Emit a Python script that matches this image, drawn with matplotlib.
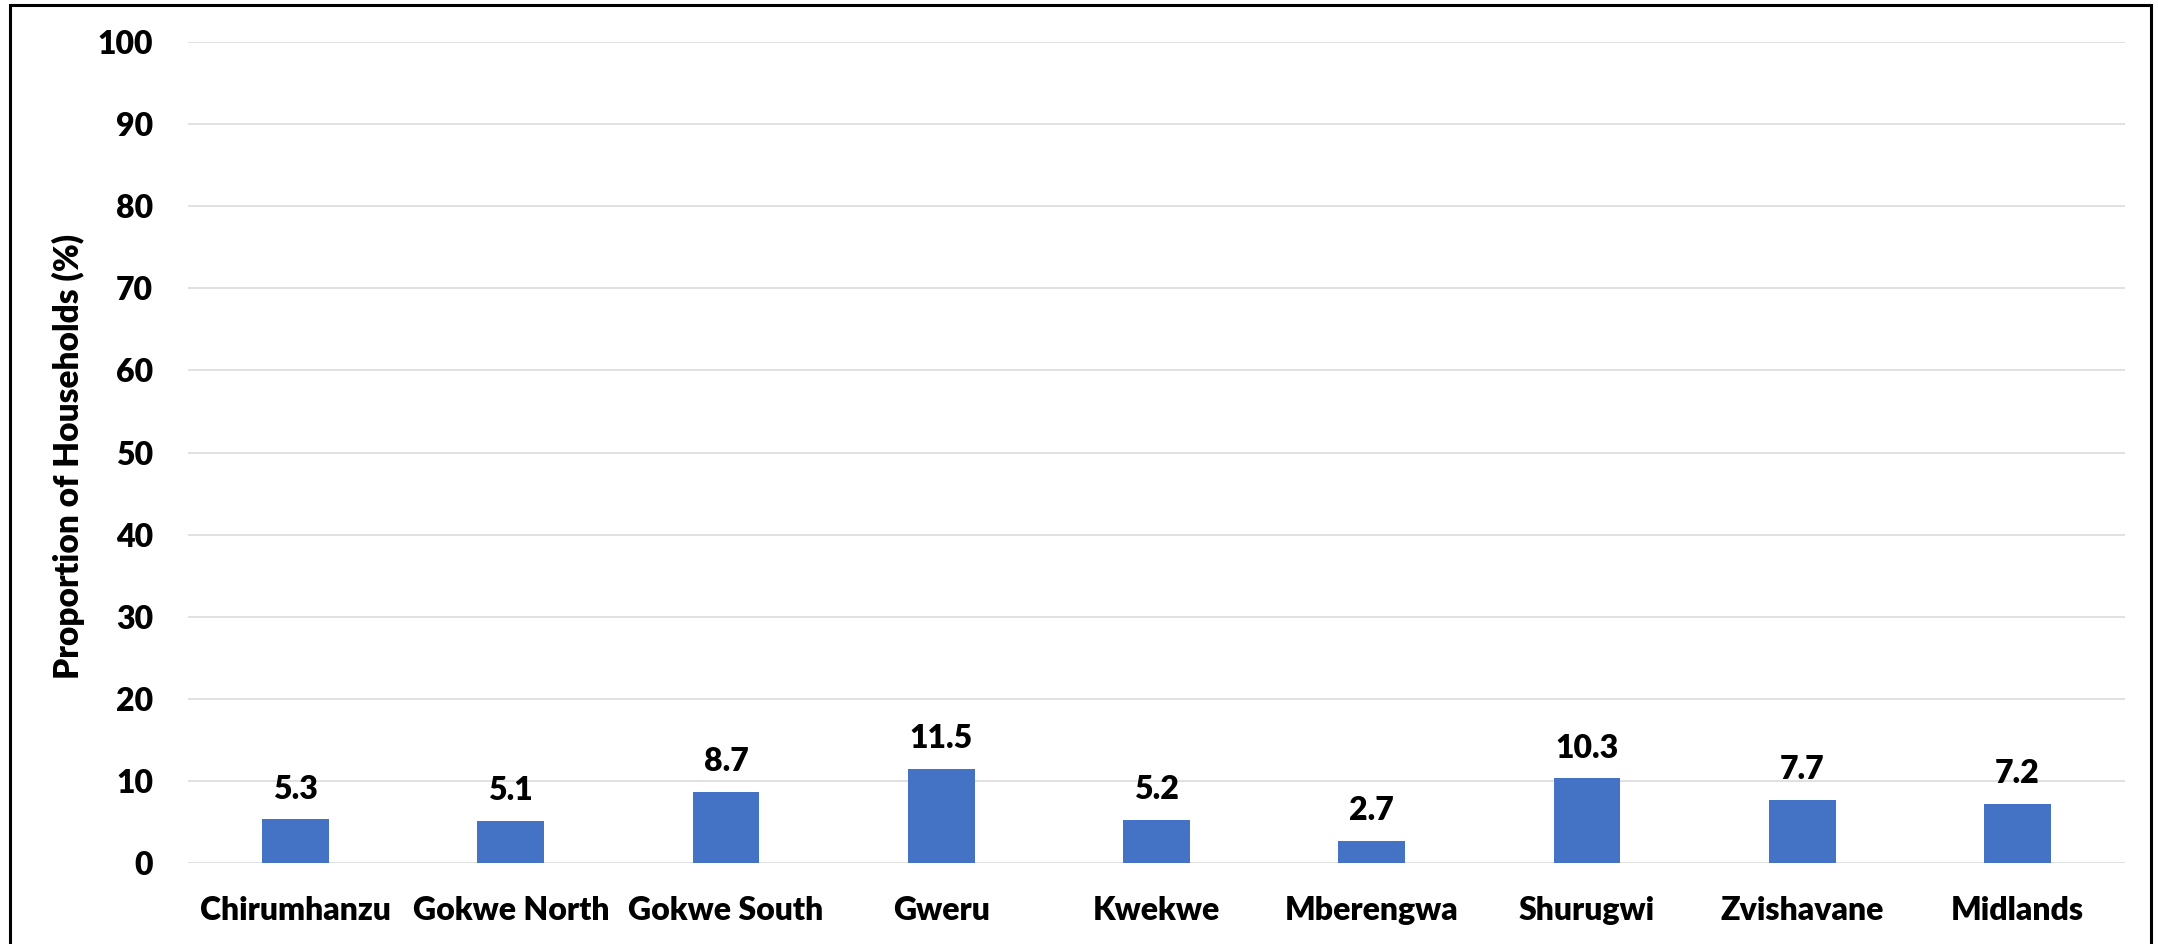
import matplotlib
matplotlib.use("Agg")
import matplotlib.pyplot as plt
from matplotlib.patches import Rectangle

districts = ["Chirumhanzu", "Gokwe North", "Gokwe South", "Gweru", "Kwekwe",
             "Mberengwa", "Shurugwi", "Zvishavane", "Midlands"]
proportions = [5.3, 5.1, 8.7, 11.5, 5.2, 2.7, 10.3, 7.7, 7.2]
y_ticks = [0, 10, 20, 30, 40, 50, 60, 70, 80, 90, 100]

WEIGHT = "heavy"
plt.rcParams["font.family"] = ["Lato", "DejaVu Sans"]
plt.rcParams["font.weight"] = WEIGHT

fig = plt.figure(figsize=(21.58, 9.44), dpi=100)
ax = fig.add_axes([0.0871, 0.0858, 0.8976, 0.8697])

x = range(len(districts))
bars = ax.bar(x, proportions, width=0.31, color="#4472C4", zorder=3)

for rect, val in zip(bars, proportions):
    ax.annotate(f"{val:.1f}",
                xy=(rect.get_x() + rect.get_width() / 2, rect.get_height()),
                xytext=(0, 15), textcoords="offset points",
                ha="center", va="baseline", fontsize=23, fontweight=WEIGHT)

ax.set_xlim(-0.5, len(districts) - 0.5)
ax.set_ylim(0, 100)
ax.set_yticks(y_ticks)
ax.set_xticks(list(x))
ax.set_xticklabels(districts)

ax.tick_params(axis="both", length=0, labelsize=23)
ax.tick_params(axis="y", pad=25)
ax.tick_params(axis="x", pad=24)
for lbl in ax.get_xticklabels() + ax.get_yticklabels():
    lbl.set_fontweight(WEIGHT)

ax.yaxis.grid(True, color="#D9D9D9", linewidth=1.1, zorder=0)
ax.set_axisbelow(True)
for side in ax.spines.values():
    side.set_visible(False)

ax.set_ylabel("Proportion of Households (%)", fontsize=24, fontweight=WEIGHT)
ax.yaxis.set_label_coords(-0.053, 0.495)

# outer frame around the whole chart, open at the bottom edge
frame = Rectangle((10 / 2158, -0.05), (2151 - 10) / 2158, 1.05 - 5 / 944,
                  transform=fig.transFigure, fill=False,
                  edgecolor="black", linewidth=2.2, clip_on=False)
fig.patches.append(frame)

fig.savefig("out.png", dpi=100)
